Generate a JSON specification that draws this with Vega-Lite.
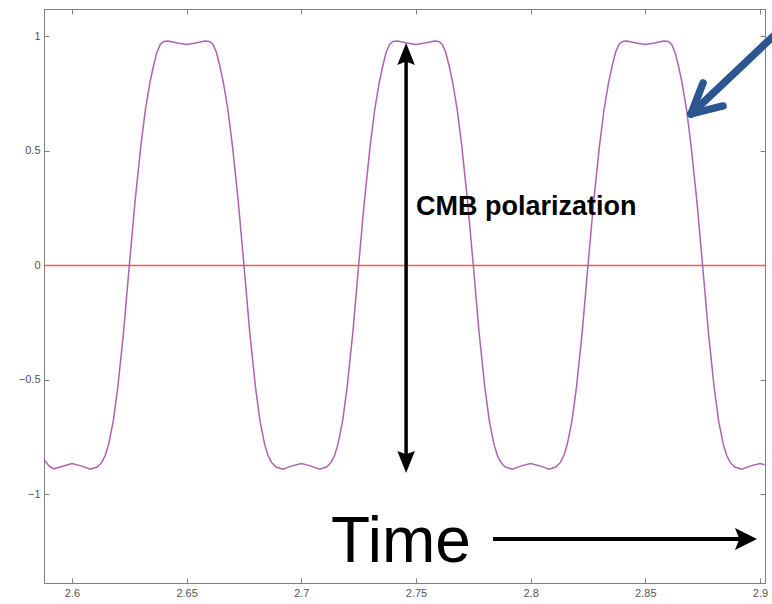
{
  "$schema": "https://vega.github.io/schema/vega-lite/v6.json",
  "width": 721,
  "height": 574,
  "autosize": "none",
  "padding": {"left": 44, "top": 9, "right": 7, "bottom": 21},
  "background": "white",
  "config": {
    "view": {"stroke": "#808080", "strokeWidth": 1},
    "axis": {
      "grid": false,
      "domainColor": "#808080",
      "tickColor": "#808080",
      "labelColor": "#555555",
      "labelFont": "Liberation Sans",
      "labelFontSize": 11,
      "tickSize": -5,
      "title": null
    }
  },
  "datasets": {
    "curve": [
      {"t": 2.588, "v": -0.85}, {"t": 2.590, "v": -0.875}, {"t": 2.592, "v": -0.888}, {"t": 2.596, "v": -0.877}, {"t": 2.600, "v": -0.865},
      {"t": 2.604, "v": -0.875}, {"t": 2.608, "v": -0.89}, {"t": 2.611, "v": -0.88}, {"t": 2.613, "v": -0.86}, {"t": 2.6145, "v": -0.83},
      {"t": 2.616, "v": -0.78}, {"t": 2.618, "v": -0.68}, {"t": 2.620, "v": -0.53}, {"t": 2.6225, "v": -0.29}, {"t": 2.625, "v": 0},
      {"t": 2.6275, "v": 0.28}, {"t": 2.630, "v": 0.52}, {"t": 2.632, "v": 0.68}, {"t": 2.634, "v": 0.80}, {"t": 2.6355, "v": 0.87},
      {"t": 2.637, "v": 0.93}, {"t": 2.6385, "v": 0.965}, {"t": 2.640, "v": 0.978}, {"t": 2.642, "v": 0.98}, {"t": 2.646, "v": 0.972},
      {"t": 2.650, "v": 0.965}, {"t": 2.654, "v": 0.972}, {"t": 2.658, "v": 0.98}, {"t": 2.660, "v": 0.978}, {"t": 2.6615, "v": 0.965},
      {"t": 2.663, "v": 0.93}, {"t": 2.6645, "v": 0.87}, {"t": 2.666, "v": 0.80}, {"t": 2.668, "v": 0.68}, {"t": 2.670, "v": 0.52},
      {"t": 2.6725, "v": 0.28}, {"t": 2.675, "v": 0}, {"t": 2.6775, "v": -0.29}, {"t": 2.680, "v": -0.53}, {"t": 2.682, "v": -0.68},
      {"t": 2.684, "v": -0.78}, {"t": 2.6855, "v": -0.83}, {"t": 2.687, "v": -0.86}, {"t": 2.689, "v": -0.88}, {"t": 2.692, "v": -0.89},
      {"t": 2.696, "v": -0.875}, {"t": 2.700, "v": -0.865},
      {"t": 2.704, "v": -0.875}, {"t": 2.708, "v": -0.89}, {"t": 2.711, "v": -0.88}, {"t": 2.713, "v": -0.86}, {"t": 2.7145, "v": -0.83},
      {"t": 2.716, "v": -0.78}, {"t": 2.718, "v": -0.68}, {"t": 2.720, "v": -0.53}, {"t": 2.7225, "v": -0.29}, {"t": 2.725, "v": 0},
      {"t": 2.7275, "v": 0.28}, {"t": 2.730, "v": 0.52}, {"t": 2.732, "v": 0.68}, {"t": 2.734, "v": 0.80}, {"t": 2.7355, "v": 0.87},
      {"t": 2.737, "v": 0.93}, {"t": 2.7385, "v": 0.965}, {"t": 2.740, "v": 0.978}, {"t": 2.742, "v": 0.98}, {"t": 2.746, "v": 0.972},
      {"t": 2.750, "v": 0.965}, {"t": 2.754, "v": 0.972}, {"t": 2.758, "v": 0.98}, {"t": 2.760, "v": 0.978}, {"t": 2.7615, "v": 0.965},
      {"t": 2.763, "v": 0.93}, {"t": 2.7645, "v": 0.87}, {"t": 2.766, "v": 0.80}, {"t": 2.768, "v": 0.68}, {"t": 2.770, "v": 0.52},
      {"t": 2.7725, "v": 0.28}, {"t": 2.775, "v": 0}, {"t": 2.7775, "v": -0.29}, {"t": 2.780, "v": -0.53}, {"t": 2.782, "v": -0.68},
      {"t": 2.784, "v": -0.78}, {"t": 2.7855, "v": -0.83}, {"t": 2.787, "v": -0.86}, {"t": 2.789, "v": -0.88}, {"t": 2.792, "v": -0.89},
      {"t": 2.796, "v": -0.875}, {"t": 2.800, "v": -0.865},
      {"t": 2.804, "v": -0.875}, {"t": 2.808, "v": -0.89}, {"t": 2.811, "v": -0.88}, {"t": 2.813, "v": -0.86}, {"t": 2.8145, "v": -0.83},
      {"t": 2.816, "v": -0.78}, {"t": 2.818, "v": -0.68}, {"t": 2.820, "v": -0.53}, {"t": 2.8225, "v": -0.29}, {"t": 2.825, "v": 0},
      {"t": 2.8275, "v": 0.28}, {"t": 2.830, "v": 0.52}, {"t": 2.832, "v": 0.68}, {"t": 2.834, "v": 0.80}, {"t": 2.8355, "v": 0.87},
      {"t": 2.837, "v": 0.93}, {"t": 2.8385, "v": 0.965}, {"t": 2.840, "v": 0.978}, {"t": 2.842, "v": 0.98}, {"t": 2.846, "v": 0.972},
      {"t": 2.850, "v": 0.965}, {"t": 2.854, "v": 0.972}, {"t": 2.858, "v": 0.98}, {"t": 2.860, "v": 0.978}, {"t": 2.8615, "v": 0.965},
      {"t": 2.863, "v": 0.93}, {"t": 2.8645, "v": 0.87}, {"t": 2.866, "v": 0.80}, {"t": 2.868, "v": 0.68}, {"t": 2.870, "v": 0.52},
      {"t": 2.8725, "v": 0.28}, {"t": 2.875, "v": 0}, {"t": 2.8775, "v": -0.29}, {"t": 2.880, "v": -0.53}, {"t": 2.882, "v": -0.68},
      {"t": 2.884, "v": -0.78}, {"t": 2.8855, "v": -0.83}, {"t": 2.887, "v": -0.86}, {"t": 2.889, "v": -0.88}, {"t": 2.892, "v": -0.89},
      {"t": 2.896, "v": -0.875}, {"t": 2.900, "v": -0.865}, {"t": 2.902, "v": -0.87}
    ],
    "baseline": [{"t": 2.5878, "v": 0, "t2": 2.9022}],
    "vshaft": [{"t": 2.7457, "v": 0.95, "t2": 2.7457, "v2": -0.88}],
    "tshaft": [{"t": 2.7836, "v": -1.194, "t2": 2.892, "v2": -1.194}],
    "blue": [
      {"t": 2.86996, "v": 0.6616, "t2": 2.9096, "v2": 1.037},
      {"t": 2.86996, "v": 0.6616, "t2": 2.8752, "v2": 0.797},
      {"t": 2.86996, "v": 0.6616, "t2": 2.8839, "v2": 0.6965}
    ],
    "heads": [
      {"t": 2.7457, "v": 0.972, "dir": "up"},
      {"t": 2.7457, "v": -0.906, "dir": "down"},
      {"t": 2.8987, "v": -1.194, "dir": "right"}
    ],
    "label_cmb": [{"t": 2.75, "v": 0.2205, "label": "CMB polarization"}],
    "label_time": [{"t": 2.713, "v": -1.2948, "label": "Time"}]
  },
  "layer": [
    {
      "data": {"name": "baseline"},
      "mark": {"type": "rule", "color": "#ec5a5a", "strokeWidth": 1.3},
      "encoding": {
        "x": {"field": "t", "type": "quantitative", "scale": {"domain": [2.5878, 2.9022], "nice": false, "zero": false}, "axis": null},
        "x2": {"field": "t2"},
        "y": {"field": "v", "type": "quantitative", "scale": {"domain": [-1.3865, 1.12], "nice": false, "zero": false}, "axis": null}
      }
    },
    {
      "data": {"name": "curve"},
      "mark": {"type": "line", "color": "#b062b0", "strokeWidth": 1.5, "clip": true},
      "encoding": {
        "x": {"field": "t", "type": "quantitative",
              "scale": {"domain": [2.5878, 2.9022], "nice": false, "zero": false},
              "axis": {"orient": "bottom", "values": [2.6, 2.65, 2.7, 2.75, 2.8, 2.85, 2.9], "format": "~g", "labelPadding": 9}},
        "y": {"field": "v", "type": "quantitative",
              "scale": {"domain": [-1.3865, 1.12], "nice": false, "zero": false},
              "axis": {"orient": "left", "values": [-1, -0.5, 0, 0.5, 1], "format": "~g", "labelPadding": 9}}
      }
    },
    {
      "data": {"name": "vshaft"},
      "mark": {"type": "rule", "color": "black", "strokeWidth": 3.5},
      "encoding": {
        "x": {"field": "t", "type": "quantitative", "scale": {"domain": [2.5878, 2.9022], "nice": false, "zero": false}, "axis": null},
        "y": {"field": "v", "type": "quantitative", "scale": {"domain": [-1.3865, 1.12], "nice": false, "zero": false}, "axis": null},
        "x2": {"field": "t2"},
        "y2": {"field": "v2"}
      }
    },
    {
      "data": {"name": "tshaft"},
      "mark": {"type": "rule", "color": "black", "strokeWidth": 4},
      "encoding": {
        "x": {"field": "t", "type": "quantitative", "scale": {"domain": [2.5878, 2.9022], "nice": false, "zero": false},
              "axis": {"orient": "top", "values": [2.6, 2.65, 2.7, 2.75, 2.8, 2.85, 2.9], "labels": false}},
        "y": {"field": "v", "type": "quantitative", "scale": {"domain": [-1.3865, 1.12], "nice": false, "zero": false},
              "axis": {"orient": "right", "values": [-1, -0.5, 0, 0.5, 1], "labels": false}},
        "x2": {"field": "t2"},
        "y2": {"field": "v2"}
      }
    },
    {
      "data": {"name": "blue"},
      "mark": {"type": "rule", "color": "#2c5591", "strokeWidth": 7.5, "strokeCap": "round", "clip": false},
      "encoding": {
        "x": {"field": "t", "type": "quantitative", "scale": {"domain": [2.5878, 2.9022], "nice": false, "zero": false}, "axis": null},
        "y": {"field": "v", "type": "quantitative", "scale": {"domain": [-1.3865, 1.12], "nice": false, "zero": false}, "axis": null},
        "x2": {"field": "t2"},
        "y2": {"field": "v2"}
      }
    },
    {
      "data": {"name": "heads"},
      "mark": {"type": "point", "filled": true, "color": "black", "opacity": 1, "size": 484, "strokeWidth": 0},
      "encoding": {
        "x": {"field": "t", "type": "quantitative", "scale": {"domain": [2.5878, 2.9022], "nice": false, "zero": false}, "axis": null},
        "y": {"field": "v", "type": "quantitative", "scale": {"domain": [-1.3865, 1.12], "nice": false, "zero": false}, "axis": null},
        "shape": {"field": "dir", "type": "nominal",
                  "scale": {"domain": ["up", "down", "right"],
                            "range": ["M0,0L0.8,2L0,1.7L-0.8,2Z", "M0,0L0.8,-2L0,-1.7L-0.8,-2Z", "M0,0L-2,-1L-1.6,0L-2,1Z"]},
                  "legend": null}
      }
    },
    {
      "data": {"name": "label_cmb"},
      "mark": {"type": "text", "align": "left", "baseline": "alphabetic", "font": "Liberation Sans", "fontWeight": "bold", "fontSize": 27, "color": "black"},
      "encoding": {
        "x": {"field": "t", "type": "quantitative", "scale": {"domain": [2.5878, 2.9022], "nice": false, "zero": false}, "axis": null},
        "y": {"field": "v", "type": "quantitative", "scale": {"domain": [-1.3865, 1.12], "nice": false, "zero": false}, "axis": null},
        "text": {"field": "label"}
      }
    },
    {
      "data": {"name": "label_time"},
      "mark": {"type": "text", "align": "left", "baseline": "alphabetic", "font": "Liberation Sans", "fontSize": 64, "color": "black"},
      "encoding": {
        "x": {"field": "t", "type": "quantitative", "scale": {"domain": [2.5878, 2.9022], "nice": false, "zero": false}, "axis": null},
        "y": {"field": "v", "type": "quantitative", "scale": {"domain": [-1.3865, 1.12], "nice": false, "zero": false}, "axis": null},
        "text": {"field": "label"}
      }
    }
  ],
  "resolve": {"axis": {"x": "independent", "y": "independent"}}
}
